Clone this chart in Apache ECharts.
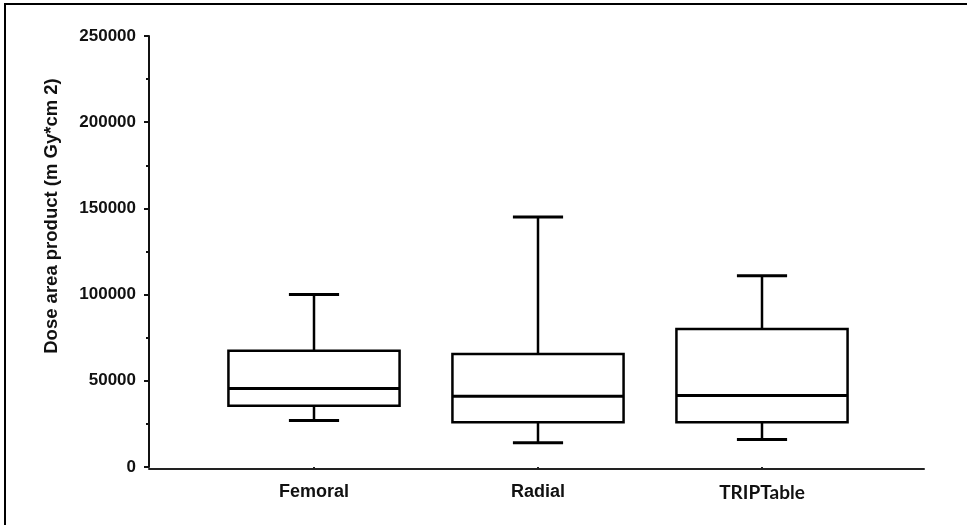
<!DOCTYPE html>
<html>
<head>
<meta charset="utf-8">
<script src="https://cdn.jsdelivr.net/npm/echarts@6/dist/echarts.min.js"></script>
<style>
  html, body { margin: 0; padding: 0; background: #fff; }
  #chart { width: 967px; height: 525px; }
  #frame {
    position: absolute; left: 4px; top: 3px; width: 980px; height: 540px;
    border-left: 2px solid #000; border-top: 2px solid #000; pointer-events: none;
  }
</style>
</head>
<body>
<div id="chart"></div>
<div id="frame"></div>
<script>
// Access route groups
const categories = ['Femoral', 'Radial', 'TRIPTable'];
// Five-number summaries of dose area product (mGy*cm2)
const whiskerLow  = [27000, 14000, 16000];
const quartile1   = [35500, 26000, 26000];
const medians     = [45500, 41000, 41500];
const quartile3   = [67500, 65500, 80000];
const whiskerHigh = [100000, 145000, 111000];
// Value axis ticks
const yTicks = [0, 50000, 100000, 150000, 200000, 250000];

const boxData = categories.map((c, i) =>
  [i, whiskerLow[i], quartile1[i], medians[i], quartile3[i], whiskerHigh[i]]);

function renderBox(params, api) {
  const i = api.value(0);
  const lo = api.coord([i, api.value(1)]);
  const b1 = api.coord([i, api.value(2)]);
  const md = api.coord([i, api.value(3)]);
  const b3 = api.coord([i, api.value(4)]);
  const hi = api.coord([i, api.value(5)]);
  const band = api.size([1, 0])[0];
  const half = band * 0.382;
  const cap = band * 0.112;
  const line = { stroke: '#000', lineWidth: 2.5, fill: null };
  const capLine = { stroke: '#000', lineWidth: 3, fill: null };
  return {
    type: 'group',
    children: [
      { type: 'line', shape: { x1: lo[0], y1: lo[1], x2: b1[0], y2: b1[1] }, style: line },
      { type: 'line', shape: { x1: b3[0], y1: b3[1], x2: hi[0], y2: hi[1] }, style: line },
      { type: 'line', shape: { x1: lo[0] - cap, y1: lo[1], x2: lo[0] + cap, y2: lo[1] }, style: capLine },
      { type: 'line', shape: { x1: hi[0] - cap, y1: hi[1], x2: hi[0] + cap, y2: hi[1] }, style: capLine },
      { type: 'rect', shape: { x: b3[0] - half, y: b3[1], width: half * 2, height: b1[1] - b3[1] },
        style: { stroke: '#000', lineWidth: 2.5, fill: '#fff' } },
      { type: 'line', shape: { x1: md[0] - half, y1: md[1], x2: md[0] + half, y2: md[1] },
        style: { stroke: '#000', lineWidth: 3, fill: null } }
    ]
  };
}

const yMax = yTicks[yTicks.length - 1];
const yStep = yTicks[1] - yTicks[0];

const chart = echarts.init(document.getElementById('chart'), null, { renderer: 'canvas' });
chart.setOption({
  animation: false,
  backgroundColor: '#fff',
  grid: [
    { left: 149, right: 43, top: 36, bottom: 58 },
    { left: 202, width: 672, top: 36, bottom: 58 }
  ],
  xAxis: [
    {
      gridIndex: 0, type: 'value', min: 0, max: 1, offset: 2,
      axisLine: { show: true, onZero: false, lineStyle: { color: '#222', width: 2 } },
      axisTick: { show: false }, axisLabel: { show: false }, splitLine: { show: false }
    },
    {
      gridIndex: 1, type: 'category', data: categories, offset: 2,
      axisLine: { show: false },
      axisTick: { show: true, alignWithLabel: true, length: 3, lineStyle: { color: '#222', width: 2 } },
      axisLabel: {
        margin: 14,
        formatter: v => v === 'TRIPTable' ? '{t|' + v + '}' : '{a|' + v + '}',
        rich: {
          a: { fontFamily: 'Liberation Sans', fontWeight: 'bold', fontSize: 18, color: '#111' },
          t: { fontFamily: 'Lato', fontWeight: 'bold', fontSize: 19, color: '#111' }
        }
      },
      splitLine: { show: false }
    }
  ],
  yAxis: [
    {
      gridIndex: 0, type: 'value', min: 0, max: yMax, interval: yStep,
      name: 'Dose area product (m Gy*cm 2)',
      nameLocation: 'middle', nameGap: 88, nameRotate: 90,
      nameTextStyle: {
        fontFamily: 'Liberation Sans', fontWeight: 'bold', fontSize: 18.5, color: '#111',
        padding: [0, 0, 0, 71]
      },
      axisLine: { show: true, lineStyle: { color: '#111', width: 2 } },
      axisTick: { show: true, length: 5, lineStyle: { color: '#111', width: 2 } },
      minorTick: { show: true, splitNumber: 2, length: 3, lineStyle: { color: '#111', width: 2 } },
      splitLine: { show: false },
      axisLabel: {
        fontFamily: 'Liberation Sans', fontWeight: 'bold', fontSize: 17, color: '#111', margin: 13,
        formatter: v => String(v)
      }
    },
    { gridIndex: 1, type: 'value', min: 0, max: yMax, interval: yStep, show: false }
  ],
  series: [{
    type: 'custom',
    xAxisIndex: 1, yAxisIndex: 1,
    data: boxData,
    encode: { x: 0, y: [1, 2, 3, 4, 5] },
    renderItem: renderBox
  }]
});
</script>
</body>
</html>
